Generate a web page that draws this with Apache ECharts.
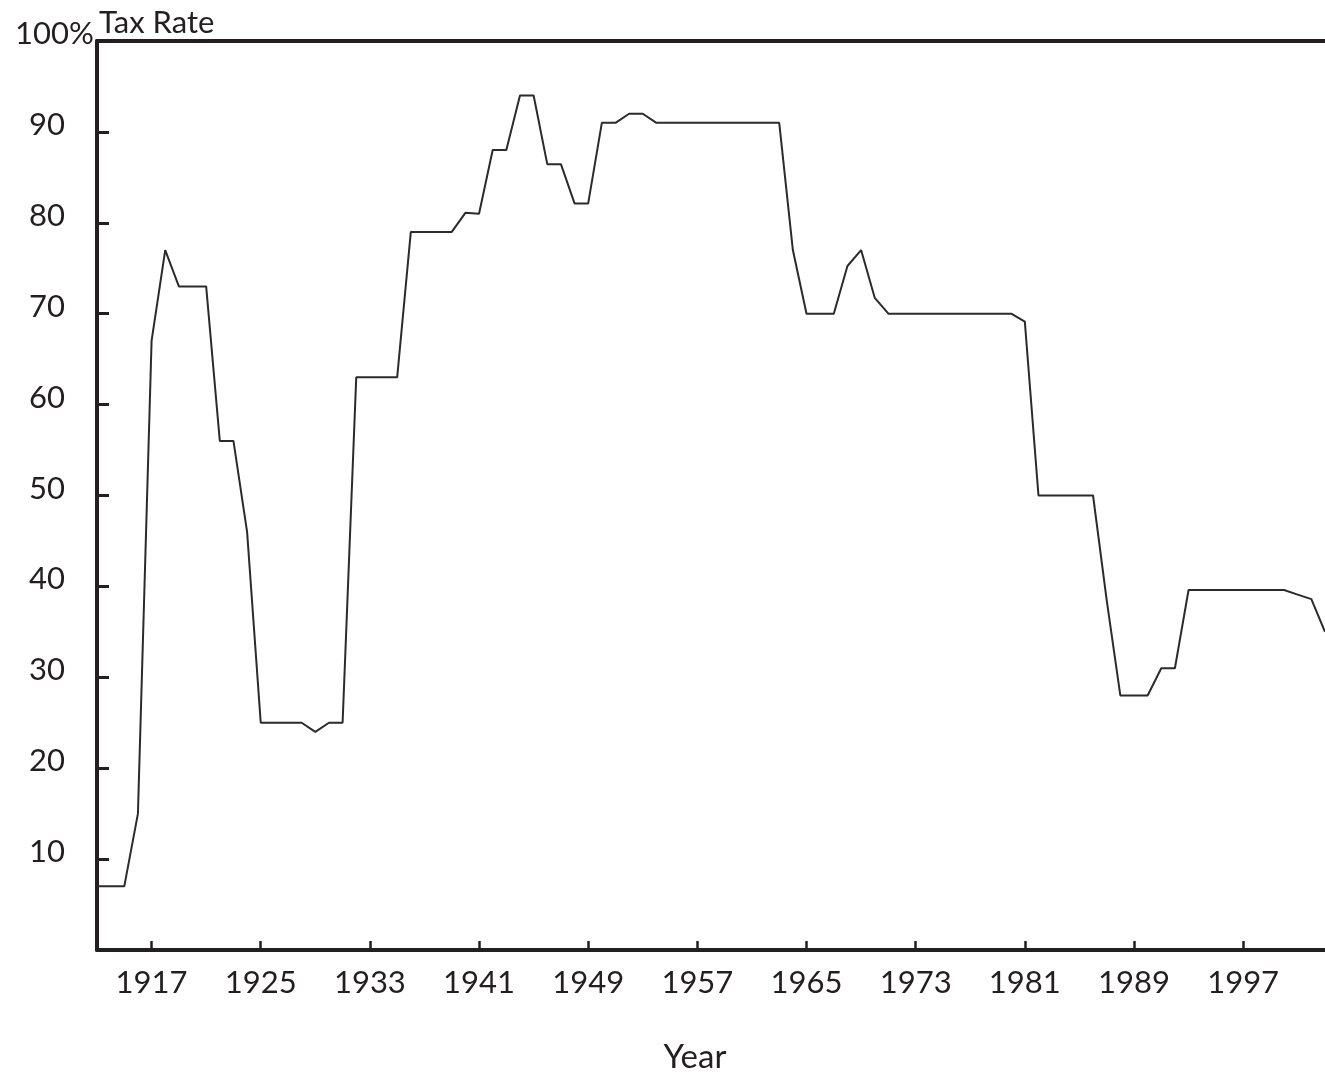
<!DOCTYPE html>
<html>
<head>
<meta charset="utf-8">
<script src="https://cdn.jsdelivr.net/npm/echarts@6/dist/echarts.min.js"></script>
<style>
html,body{margin:0;padding:0;background:#ffffff;}
#chart{width:1325px;height:1075px;}
</style>
</head>
<body>
<div id="chart"></div>
<script>
// ---- data ----
const years = [
  1913,1914,1915,1916,1917,1918,1919,1920,1921,1922,
  1923,1924,1925,1926,1927,1928,1929,1930,1931,1932,
  1933,1934,1935,1936,1937,1938,1939,1940,1941,1942,
  1943,1944,1945,1946,1947,1948,1949,1950,1951,1952,
  1953,1954,1955,1956,1957,1958,1959,1960,1961,1962,
  1963,1964,1965,1966,1967,1968,1969,1970,1971,1972,
  1973,1974,1975,1976,1977,1978,1979,1980,1981,1982,
  1983,1984,1985,1986,1987,1988,1989,1990,1991,1992,
  1993,1994,1995,1996,1997,1998,1999,2000,2001,2002,
  2003
];
const topTaxRate = [
  7, 7, 7, 15, 67, 77, 73, 73, 73, 56,
  56, 46, 25, 25, 25, 25, 24, 25, 25, 63,
  63, 63, 63, 79, 79, 79, 79, 81.1, 81, 88,
  88, 94, 94, 86.45, 86.45, 82.13, 82.13, 91, 91, 92,
  92, 91, 91, 91, 91, 91, 91, 91, 91, 91,
  91, 77, 70, 70, 70, 75.25, 77, 71.75, 70, 70,
  70, 70, 70, 70, 70, 70, 70, 70, 69.13, 50,
  50, 50, 50, 50, 38.5, 28, 28, 28, 31, 31,
  39.6, 39.6, 39.6, 39.6, 39.6, 39.6, 39.6, 39.6, 39.1, 38.6,
  35
];
const xTickYears = [1917, 1925, 1933, 1941, 1949, 1957, 1965, 1973, 1981, 1989, 1997];
const yTickValues = [10, 20, 30, 40, 50, 60, 70, 80, 90];
const yLabelValues = [10, 20, 30, 40, 50, 60, 70, 80, 90, 100];

// ---- chart ----
const INK = '#231f20';
const FONT = 'Lato, "Open Sans", sans-serif';
const chart = echarts.init(document.getElementById('chart'), null, {renderer: 'canvas'});

const option = {
  animation: false,
  backgroundColor: '#ffffff',
  grid: {left: 97, right: 0, top: 41, bottom: 125, containLabel: false, outerBoundsMode: 'none'},
  xAxis: [{
    type: 'value',
    min: 1913,
    max: 2003,
    name: 'Year',
    nameLocation: 'middle',
    nameGap: 91,
    nameMoveOverlap: false,
    nameTextStyle: {fontFamily: FONT, fontSize: 33, color: INK, padding: [0, 32, 0, 0]},
    axisLine: {show: true, onZero: false, lineStyle: {color: INK, width: 4}},
    axisTick: {show: true, inside: true, length: 9, customValues: xTickYears, lineStyle: {color: INK, width: 2.5}},
    axisLabel: {show: true, customValues: xTickYears, formatter: v => String(v), margin: 17,
                fontFamily: FONT, fontSize: 31, color: INK},
    splitLine: {show: false}
  }, {
    type: 'value',
    position: 'top',
    min: 1913,
    max: 2003,
    axisLine: {show: true, onZero: false, lineStyle: {color: INK, width: 4}},
    axisTick: {show: false},
    axisLabel: {show: false},
    splitLine: {show: false}
  }],
  yAxis: [{
    type: 'value',
    min: 0,
    max: 100,
    interval: 10,
    name: 'Tax Rate',
    nameLocation: 'end',
    nameGap: 3,
    nameMoveOverlap: false,
    nameTextStyle: {fontFamily: FONT, fontSize: 31, color: INK, align: 'left', verticalAlign: 'bottom', padding: [0, 0, 0, 2]},
    axisLine: {show: true, onZero: false, lineStyle: {color: INK, width: 4}},
    axisTick: {show: true, inside: true, length: 12, customValues: yTickValues, lineStyle: {color: INK, width: 3}},
    axisLabel: {
      show: true,
      customValues: yLabelValues,
      align: 'left',
      margin: 82,
      padding: [0, 0, 14, 0],
      formatter: v => (v === 100 ? '{p|100%}' : '{n|' + v + '}'),
      rich: {
        n: {fontFamily: FONT, fontSize: 31, color: INK, width: 50, align: 'right'},
        p: {fontFamily: FONT, fontSize: 31, color: INK, align: 'left'}
      }
    },
    splitLine: {show: false}
  }],
  series: [{
    type: 'line',
    xAxisIndex: 0,
    yAxisIndex: 0,
    data: years.map((y, i) => [y, topTaxRate[i]]),
    showSymbol: false,
    symbol: 'none',
    lineStyle: {color: '#2b2b2b', width: 2},
    clip: true
  }]
};
chart.setOption(option);
</script>
</body>
</html>
